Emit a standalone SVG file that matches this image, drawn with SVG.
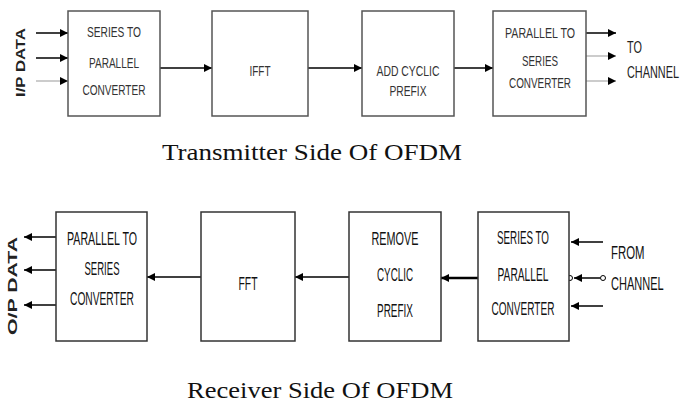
<svg xmlns="http://www.w3.org/2000/svg" width="693" height="405" viewBox="0 0 693 405">
<defs>
<marker id="ah" markerUnits="userSpaceOnUse" markerWidth="10" markerHeight="10" refX="8" refY="4" orient="auto">
<path d="M0,0 L8,4 L0,8 z" fill="#000"/>
</marker>
<style>
.box{fill:#fff;stroke:#555;stroke-width:1.5}
.box2{fill:#fff;stroke:#333;stroke-width:1.5}
.lbl{font-family:"Liberation Sans",Arial,sans-serif;font-size:15px;fill:#333;text-anchor:middle}
.lbl2{font-family:"Liberation Sans",Arial,sans-serif;font-size:19px;fill:#111;text-anchor:middle}
.side{font-family:"Liberation Sans",Arial,sans-serif;font-size:16px;fill:#222}
.side2{font-family:"Liberation Sans",Arial,sans-serif;font-size:19px;fill:#111}
.cap{font-family:"Liberation Serif","Times New Roman",serif;font-size:23px;fill:#111;text-anchor:middle}
.vt{font-family:"Liberation Sans",Arial,sans-serif;font-weight:bold;fill:#222;text-anchor:middle}
.ln{stroke:#000;stroke-width:1.5;fill:none}
.lg{stroke:#bbb;stroke-width:1.5;fill:none}
</style>
</defs>
<g id="connectors">
<line class="ln" x1="36" y1="33" x2="68" y2="33" marker-end="url(#ah)"/>
<line class="ln" x1="36" y1="58" x2="68" y2="58" marker-end="url(#ah)"/>
<line class="lg" x1="36" y1="81" x2="68" y2="81" marker-end="url(#ah)"/>
<line class="ln" x1="160" y1="68" x2="212" y2="68" marker-end="url(#ah)"/>
<line class="ln" x1="308" y1="68" x2="362" y2="68" marker-end="url(#ah)"/>
<line class="ln" x1="454" y1="68" x2="493" y2="68" marker-end="url(#ah)"/>
<line class="ln" x1="586" y1="33" x2="616" y2="33" marker-end="url(#ah)"/>
<line class="lg" x1="586" y1="56" x2="616" y2="56" marker-end="url(#ah)"/>
<line class="lg" x1="586" y1="81" x2="616" y2="81" marker-end="url(#ah)"/>
<line class="ln" x1="56" y1="237" x2="24" y2="237" marker-end="url(#ah)"/>
<line class="ln" x1="56" y1="270" x2="24" y2="270" marker-end="url(#ah)"/>
<line class="ln" x1="56" y1="305" x2="24" y2="305" marker-end="url(#ah)"/>
<line class="ln" x1="201" y1="277" x2="147" y2="277" marker-end="url(#ah)"/>
<line class="ln" x1="349" y1="277" x2="295" y2="277" marker-end="url(#ah)"/>
<line x1="569" y1="278" x2="441" y2="278" stroke="#000" stroke-width="2.5" marker-end="url(#ah)"/>
<line class="ln" x1="603" y1="242" x2="571" y2="242" marker-end="url(#ah)"/>
<line class="ln" x1="600" y1="278" x2="574" y2="278" marker-end="url(#ah)"/>
<line class="ln" x1="603" y1="306" x2="571" y2="306" marker-end="url(#ah)"/>
<circle cx="603" cy="278" r="2.5" fill="#fff" stroke="#000" stroke-width="1"/>
<circle cx="570" cy="278" r="2.5" fill="#fff" stroke="#000" stroke-width="1"/>
</g>
<g id="tx-s2p">
<rect class="box" x="68" y="11" width="92" height="105"/>
<text class="lbl" x="114" y="37" textLength="54" lengthAdjust="spacingAndGlyphs">SERIES TO</text>
<text class="lbl" x="114" y="68" textLength="50" lengthAdjust="spacingAndGlyphs">PARALLEL</text>
<text class="lbl" x="114" y="95" textLength="63" lengthAdjust="spacingAndGlyphs">CONVERTER</text>
</g>
<g id="tx-ifft">
<rect class="box" x="212" y="11" width="96" height="105"/>
<text class="lbl" x="260" y="76" textLength="21" lengthAdjust="spacingAndGlyphs">IFFT</text>
</g>
<g id="tx-acp">
<rect class="box" x="362" y="11" width="92" height="105"/>
<text class="lbl" x="408" y="76" textLength="63" lengthAdjust="spacingAndGlyphs">ADD CYCLIC</text>
<text class="lbl" x="408" y="96" textLength="37" lengthAdjust="spacingAndGlyphs">PREFIX</text>
</g>
<g id="tx-p2s">
<rect class="box" x="493" y="11" width="93" height="105"/>
<text class="lbl" x="540" y="38" textLength="70" lengthAdjust="spacingAndGlyphs">PARALLEL TO</text>
<text class="lbl" x="540" y="66" textLength="36" lengthAdjust="spacingAndGlyphs">SERIES</text>
<text class="lbl" x="540" y="88" textLength="62" lengthAdjust="spacingAndGlyphs">CONVERTER</text>
</g>
<g id="tx-in">
<text class="vt" font-size="12" transform="translate(25,62.5) rotate(-90)" textLength="69" lengthAdjust="spacingAndGlyphs">I/P DATA</text>
</g>
<g id="tx-out">
<text class="side" transform="translate(627,53) scale(0.68,1)">TO</text>
<text class="side" transform="translate(627,78) scale(0.68,1)">CHANNEL</text>
</g>
<g id="tx-caption">
<text class="cap" x="312" y="160" textLength="300" lengthAdjust="spacingAndGlyphs">Transmitter Side Of OFDM</text>
</g>
<g id="rx-p2s">
<rect class="box2" x="56" y="212" width="91" height="129"/>
<text class="lbl2" x="102" y="245" textLength="70" lengthAdjust="spacingAndGlyphs">PARALLEL TO</text>
<text class="lbl2" x="102" y="275" textLength="35" lengthAdjust="spacingAndGlyphs">SERIES</text>
<text class="lbl2" x="102" y="305" textLength="64" lengthAdjust="spacingAndGlyphs">CONVERTER</text>
</g>
<g id="rx-fft">
<rect class="box2" x="201" y="212" width="94" height="129"/>
<text class="lbl2" x="248" y="290" textLength="19" lengthAdjust="spacingAndGlyphs">FFT</text>
</g>
<g id="rx-rcp">
<rect class="box2" x="349" y="212" width="92" height="129"/>
<text class="lbl2" x="395" y="245" textLength="47" lengthAdjust="spacingAndGlyphs">REMOVE</text>
<text class="lbl2" x="395" y="281" textLength="36" lengthAdjust="spacingAndGlyphs">CYCLIC</text>
<text class="lbl2" x="395" y="317" textLength="36" lengthAdjust="spacingAndGlyphs">PREFIX</text>
</g>
<g id="rx-s2p">
<rect class="box2" x="478" y="212" width="91" height="129"/>
<text class="lbl2" x="523" y="244" textLength="52" lengthAdjust="spacingAndGlyphs">SERIES TO</text>
<text class="lbl2" x="523" y="281" textLength="51" lengthAdjust="spacingAndGlyphs">PARALLEL</text>
<text class="lbl2" x="523" y="315" textLength="63" lengthAdjust="spacingAndGlyphs">CONVERTER</text>
</g>
<g id="rx-out">
<text class="vt" font-size="13" transform="translate(17,286) rotate(-90)" textLength="98" lengthAdjust="spacingAndGlyphs">O/P DATA</text>
</g>
<g id="rx-in">
<text class="side2" transform="translate(611,259) scale(0.6,1)">FROM</text>
<text class="side2" transform="translate(611,290) scale(0.58,1)">CHANNEL</text>
</g>
<g id="rx-caption">
<text class="cap" x="320" y="398" textLength="266" lengthAdjust="spacingAndGlyphs">Receiver Side Of OFDM</text>
</g>
</svg>
